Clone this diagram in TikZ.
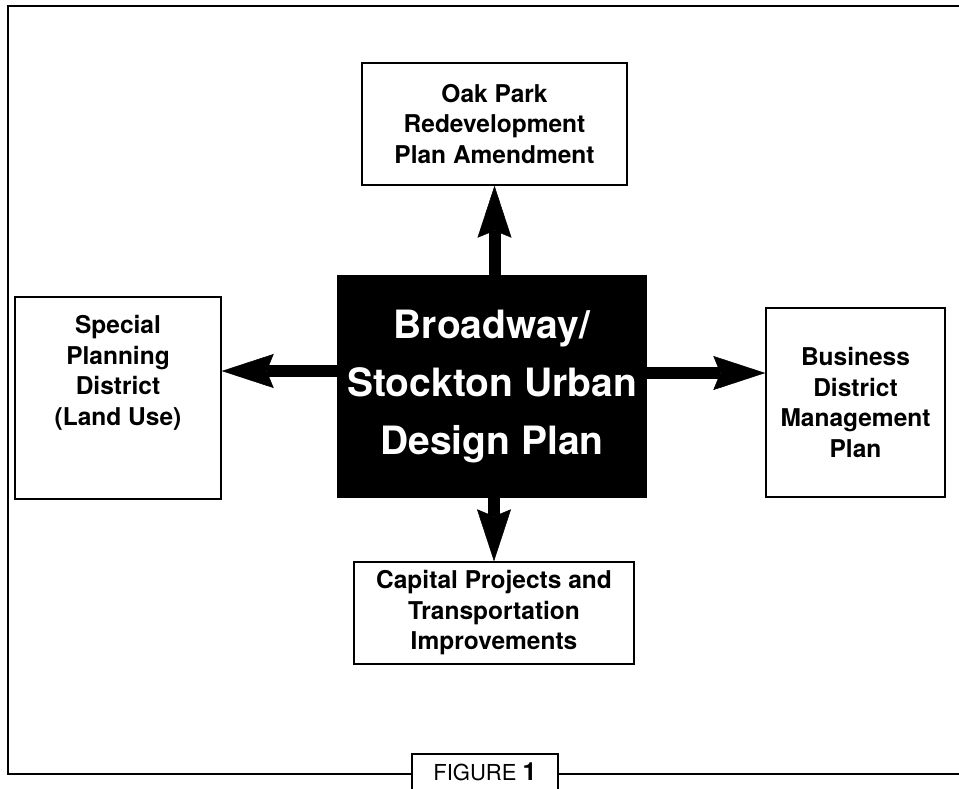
\documentclass[tikz,border=0pt]{standalone}
\usepackage{fontspec}
\setmainfont{TeX Gyre Heros}
\usetikzlibrary{arrows.meta,positioning}

\begin{document}
\begin{tikzpicture}[
    x=1pt, y=-1pt,
    font=\bfseries\fontsize{24.5}{30.5}\selectfont,
    % boxes around the core plan
    plan/.style={rectangle, draw, line width=1.4pt, align=center, inner sep=0pt},
    core/.style={rectangle, fill=black, text=white, align=center, inner sep=0pt,
        font=\bfseries\fontsize{39}{58}\selectfont},
    link/.style={draw, line width=12pt, -{Stealth[length=52pt, width=34pt, inset=7pt, line width=0.5pt]}}
]
    \useasboundingbox (0,0) rectangle (959,788);

    % --- Outer frame ---
    \draw[line width=1.3pt] (959,6) -- (8,6) -- (8,774) -- (959,774);

    % --- Core plan ---
    \node[core, minimum width=310pt, minimum height=223pt] (core) at (492,386.5)
        {Broadway/\\Stockton Urban\\Design Plan};

    % --- Related plans ---
    \node[plan, minimum width=265pt, minimum height=122pt] (oak) at (494.5,124)
        {Oak Park\\Redevelopment\\Plan Amendment};
    \node[plan, minimum width=206pt, minimum height=202pt] (spd) at (118,398) {};
    \node[align=center] (spd-txt) at (118,373) {Special\\Planning\\District\\(Land Use)};
    \node[plan, minimum width=179pt, minimum height=189pt] (bdm) at (855.5,402.5)
        {Business\\District\\Management\\Plan};
    \node[plan, minimum width=280pt, minimum height=102pt] (cap) at (494,613)
        {Capital Projects and\\Transportation\\Improvements};

    % --- Arrows out of the core plan ---
    \draw[link] (core.north -| oak.south) -- (oak.south);
    \draw[link] (core.south -| cap.north) -- (cap.north);
    \draw[link] (core.west |- 0,371) -- (spd.east |- 0,371);
    \draw[link] (core.east |- 0,373) -- (bdm.west |- 0,373);

    % --- Caption tab ---
    \node[draw, line width=1.2pt, fill=white, minimum width=146pt, minimum height=36pt,
        font=\mdseries\fontsize{22}{24}\selectfont] (fig) at (485,772)
        {FIGURE \textbf{\fontsize{25}{26}\selectfont 1}};

\end{tikzpicture}
\end{document}
